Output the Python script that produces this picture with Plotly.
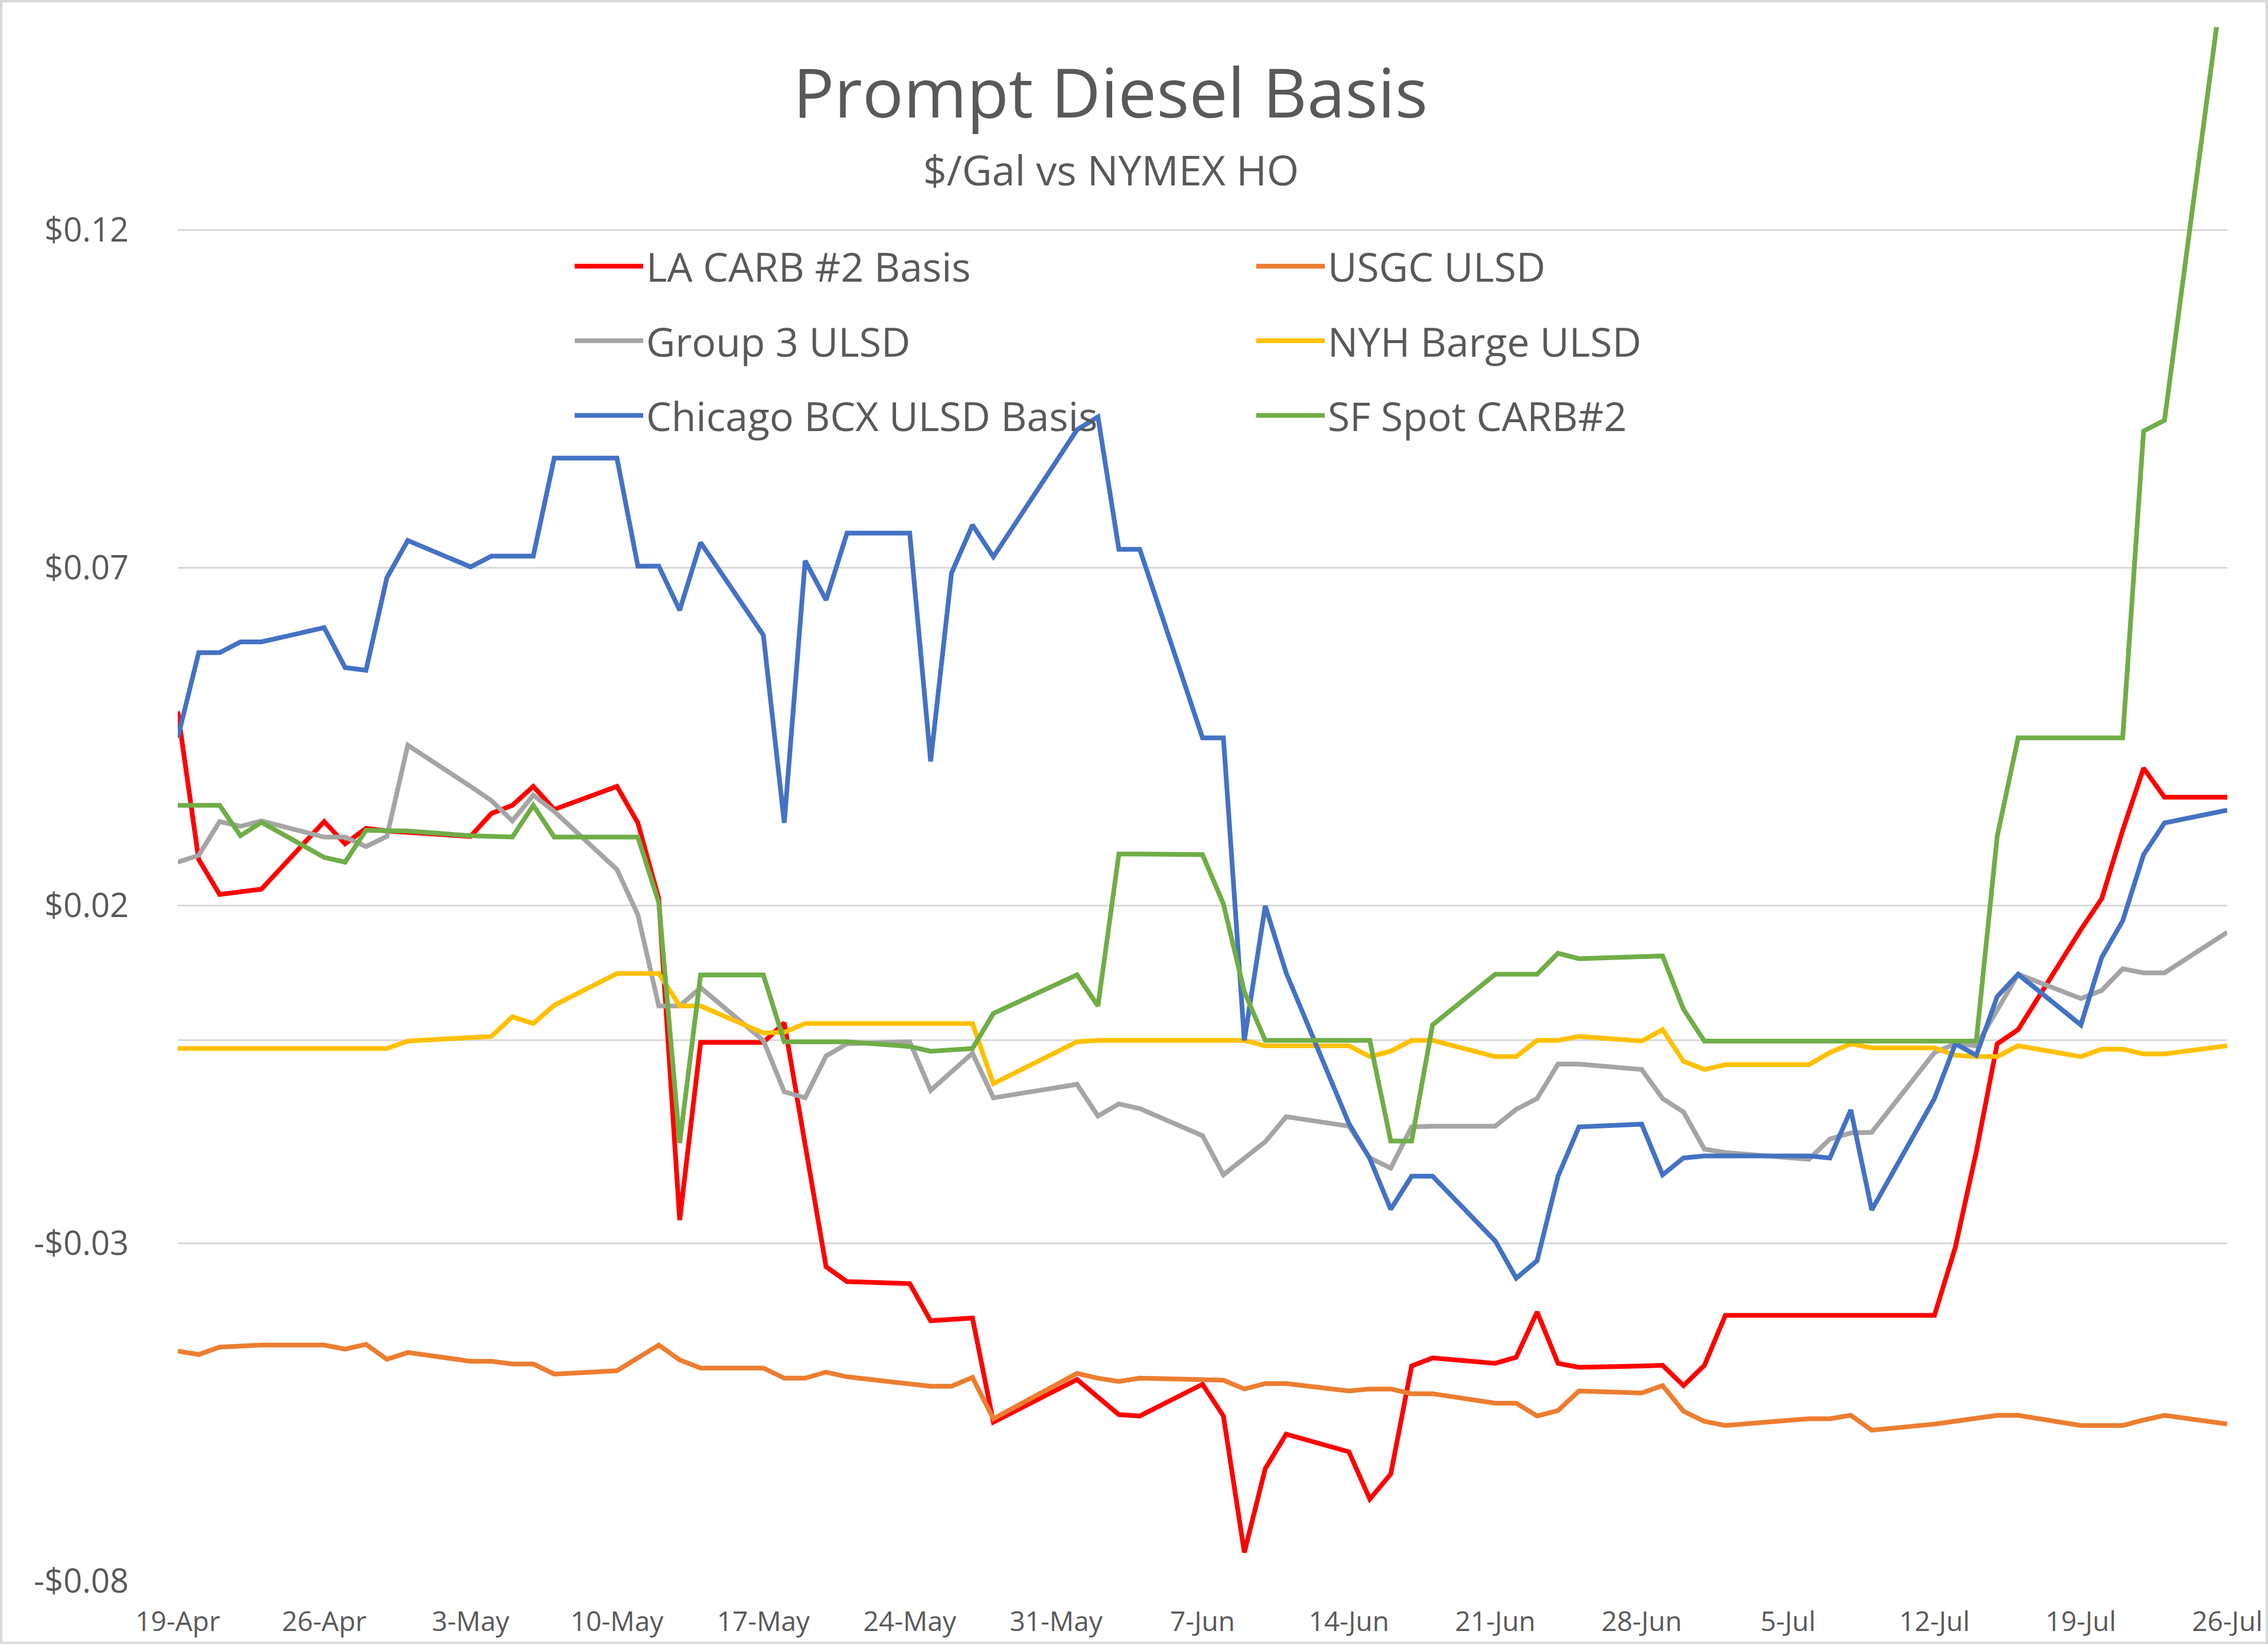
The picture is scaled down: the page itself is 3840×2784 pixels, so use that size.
import plotly.graph_objects as go

dates = [
    "2021-04-19", "2021-04-20", "2021-04-21", "2021-04-22", "2021-04-23",
    "2021-04-26", "2021-04-27", "2021-04-28", "2021-04-29", "2021-04-30",
    "2021-05-03", "2021-05-04", "2021-05-05", "2021-05-06", "2021-05-07",
    "2021-05-10", "2021-05-11", "2021-05-12", "2021-05-13", "2021-05-14",
    "2021-05-17", "2021-05-18", "2021-05-19", "2021-05-20", "2021-05-21",
    "2021-05-24", "2021-05-25", "2021-05-26", "2021-05-27", "2021-05-28",
    "2021-06-01", "2021-06-02", "2021-06-03", "2021-06-04",
    "2021-06-07", "2021-06-08", "2021-06-09", "2021-06-10", "2021-06-11",
    "2021-06-14", "2021-06-15", "2021-06-16", "2021-06-17", "2021-06-18",
    "2021-06-21", "2021-06-22", "2021-06-23", "2021-06-24", "2021-06-25",
    "2021-06-28", "2021-06-29", "2021-06-30", "2021-07-01", "2021-07-02",
    "2021-07-06", "2021-07-07", "2021-07-08", "2021-07-09",
    "2021-07-12", "2021-07-13", "2021-07-14", "2021-07-15", "2021-07-16",
    "2021-07-19", "2021-07-20", "2021-07-21", "2021-07-22", "2021-07-23",
    "2021-07-26",
]

la_carb = [
    0.0487, 0.0268, 0.0216, 0.0220, 0.0224,
    0.0324, 0.0291, 0.0314, 0.0310, 0.0308,
    0.0302, 0.0336, 0.0348, 0.0376, 0.0342,
    0.0376, 0.0322, 0.0210, -0.0266, -0.0003,
    -0.0003, 0.0026, -0.0159, -0.0335, -0.0357,
    -0.0360, -0.0415, -0.0413, -0.0411, -0.0565,
    -0.0502, -0.0528, -0.0554, -0.0556,
    -0.0509, -0.0556, -0.0758, -0.0634, -0.0583,
    -0.0609, -0.0679, -0.0642, -0.0482, -0.0470,
    -0.0478, -0.0469, -0.0402, -0.0478, -0.0484,
    -0.0482, -0.0481, -0.0511, -0.0481, -0.0407,
    -0.0407, -0.0407, -0.0407, -0.0407,
    -0.0407, -0.0306, -0.0165, -0.0005, 0.0016,
    0.0164, 0.0210, 0.0311, 0.0403, 0.0360,
    0.0360,
]

usgc_ulsd = [
    -0.0460, -0.0465, -0.0454, -0.0452, -0.0451,
    -0.0451, -0.0457, -0.0450, -0.0472, -0.0462,
    -0.0475, -0.0475, -0.0479, -0.0479, -0.0494,
    -0.0489, -0.0470, -0.0451, -0.0473, -0.0485,
    -0.0485, -0.0500, -0.0500, -0.0491, -0.0498,
    -0.0508, -0.0512, -0.0512, -0.0499, -0.0560,
    -0.0493, -0.0500, -0.0505, -0.0500,
    -0.0503, -0.0503, -0.0516, -0.0508, -0.0508,
    -0.0519, -0.0516, -0.0516, -0.0523, -0.0523,
    -0.0537, -0.0537, -0.0556, -0.0548, -0.0519,
    -0.0522, -0.0511, -0.0549, -0.0564, -0.0570,
    -0.0560, -0.0560, -0.0555, -0.0577,
    -0.0568, -0.0564, -0.0560, -0.0555, -0.0555,
    -0.0570, -0.0570, -0.0570, -0.0562, -0.0555,
    -0.0568,
]

group3_ulsd = [
    0.0264, 0.0274, 0.0324, 0.0317, 0.0325,
    0.0301, 0.0301, 0.0287, 0.0302, 0.0437,
    0.0376, 0.0355, 0.0325, 0.0363, 0.0339,
    0.0253, 0.0186, 0.0051, 0.0051, 0.0078,
    0.0000, -0.0076, -0.0085, -0.0023, -0.0005,
    -0.0002, -0.0074, -0.0047, -0.0019, -0.0085,
    -0.0065, -0.0112, -0.0094, -0.0101,
    -0.0141, -0.0199, -0.0174, -0.0150, -0.0113,
    -0.0127, -0.0174, -0.0189, -0.0128, -0.0127,
    -0.0127, -0.0102, -0.0086, -0.0035, -0.0035,
    -0.0043, -0.0086, -0.0106, -0.0161, -0.0166,
    -0.0176, -0.0146, -0.0137, -0.0136,
    -0.0018, -0.0005, -0.0008, 0.0045, 0.0098,
    0.0062, 0.0074, 0.0106, 0.0100, 0.0100,
    0.0160,
]

nyh_barge_ulsd = [
    -0.0012, -0.0012, -0.0012, -0.0012, -0.0012,
    -0.0012, -0.0012, -0.0012, -0.0012, -0.0001,
    0.0005, 0.0006, 0.0035, 0.0025, 0.0052,
    0.0099, 0.0099, 0.0099, 0.0051, 0.0051,
    0.0011, 0.0012, 0.0025, 0.0025, 0.0025,
    0.0025, 0.0025, 0.0025, 0.0025, -0.0064,
    -0.0002, 0.0000, 0.0000, 0.0000,
    0.0000, 0.0000, 0.0000, -0.0008, -0.0008,
    -0.0008, -0.0024, -0.0016, 0.0000, 0.0000,
    -0.0024, -0.0024, 0.0000, 0.0000, 0.0006,
    -0.0001, 0.0016, -0.0031, -0.0043, -0.0036,
    -0.0036, -0.0018, -0.0005, -0.0011,
    -0.0011, -0.0022, -0.0024, -0.0024, -0.0008,
    -0.0024, -0.0013, -0.0013, -0.0020, -0.0020,
    -0.0008,
]

chicago_bcx = [
    0.0448, 0.0574, 0.0574, 0.0590, 0.0590,
    0.0611, 0.0552, 0.0548, 0.0685, 0.0740,
    0.0701, 0.0717, 0.0717, 0.0717, 0.0862,
    0.0862, 0.0702, 0.0702, 0.0637, 0.0737,
    0.0600, 0.0322, 0.0710, 0.0652, 0.0751,
    0.0751, 0.0413, 0.0692, 0.0763, 0.0716,
    0.0904, 0.0923, 0.0727, 0.0727,
    0.0448, 0.0448, 0.0000, 0.0199, 0.0100,
    -0.0123, -0.0175, -0.0250, -0.0201, -0.0201,
    -0.0297, -0.0352, -0.0326, -0.0201, -0.0128,
    -0.0124, -0.0199, -0.0174, -0.0171, -0.0171,
    -0.0171, -0.0174, -0.0103, -0.0251,
    -0.0086, -0.0005, -0.0022, 0.0065, 0.0098,
    0.0023, 0.0123, 0.0177, 0.0275, 0.0322,
    0.0341,
]

sf_spot_carb2 = [
    0.0348, 0.0348, 0.0348, 0.0303, 0.0323,
    0.0271, 0.0264, 0.0311, 0.0311, 0.0310,
    0.0303, 0.0302, 0.0301, 0.0348, 0.0301,
    0.0301, 0.0301, 0.0204, -0.0152, 0.0097,
    0.0097, -0.0002, -0.0002, -0.0002, -0.0002,
    -0.0009, -0.0016, -0.0014, -0.0012, 0.0040,
    0.0097, 0.0051, 0.0276, 0.0276,
    0.0275, 0.0202, 0.0072, 0.0000, 0.0000,
    0.0000, 0.0000, -0.0149, -0.0149, 0.0023,
    0.0098, 0.0098, 0.0098, 0.0129, 0.0121,
    0.0124, 0.0125, 0.0046, -0.0001, -0.0001,
    -0.0001, -0.0001, -0.0001, -0.0001,
    -0.0001, -0.0001, -0.0001, 0.0302, 0.0448,
    0.0448, 0.0448, 0.0448, 0.0902, 0.0918,
    0.1620,
]

x_tick_dates = [
    "2021-04-19", "2021-04-26", "2021-05-03", "2021-05-10", "2021-05-17",
    "2021-05-24", "2021-05-31", "2021-06-07", "2021-06-14", "2021-06-21",
    "2021-06-28", "2021-07-05", "2021-07-12", "2021-07-19", "2021-07-26",
]
x_tick_labels = [
    "19-Apr", "26-Apr", "3-May", "10-May", "17-May", "24-May", "31-May",
    "7-Jun", "14-Jun", "21-Jun", "28-Jun", "5-Jul", "12-Jul", "19-Jul", "26-Jul",
]
y_tick_values = [-0.08, -0.03, 0.02, 0.07, 0.12]
y_tick_labels = ["-$0.08", "-$0.03", "$0.02", "$0.07", "$0.12"]

series_names = ["LA CARB #2 Basis", "USGC ULSD", "Group 3 ULSD",
                "NYH Barge ULSD", "Chicago BCX ULSD Basis", "SF Spot CARB#2"]
series_values = [la_carb, usgc_ulsd, group3_ulsd, nyh_barge_ulsd, chicago_bcx, sf_spot_carb2]
series_colors = ["#FF0000", "#ED7D31", "#A5A5A5", "#FFC000", "#4472C4", "#70AD47"]
series_legends = ["legend", "legend2", "legend", "legend2", "legend", "legend2"]

W, H = 3840, 2784
ML, MR, MT, MB = 301, 69, 46, 107
PW, PH = W - ML - MR, H - MT - MB

TEXT = "#595959"
FONT = "Open Sans"

fig = go.Figure()
for name, vals, col, lg in zip(series_names, series_values, series_colors, series_legends):
    fig.add_trace(go.Scatter(
        x=dates, y=vals, name=name, mode="lines",
        line=dict(color=col, width=8),
        legend=lg, legendgroup=name,
    ))

def px_x(px):
    return (px - ML) / PW

def px_y(py):
    return (H - MB - py) / PH

legend_common = dict(
    orientation="v",
    xanchor="left", yanchor="top",
    font=dict(family=FONT, size=68, color=TEXT),
    bgcolor="rgba(0,0,0,0)",
    itemwidth=116,
    tracegroupgap=35,
    traceorder="grouped",
)

fig.update_layout(
    width=W, height=H,
    margin=dict(l=ML, r=MR, t=MT, b=MB, autoexpand=False),
    paper_bgcolor="white", plot_bgcolor="white",
    font=dict(family=FONT, color=TEXT),
    title=dict(
        text="Prompt Diesel Basis",
        font=dict(family=FONT, size=116, color=TEXT),
        xref="container", yref="container",
        x=1880 / W, y=1 - 158 / H, xanchor="center", yanchor="middle",
    ),
    annotations=[dict(
        text="$/Gal vs NYMEX HO", showarrow=False,
        xref="paper", yref="paper",
        x=px_x(1881), y=px_y(287), xanchor="center", yanchor="middle",
        font=dict(family=FONT, size=70, color=TEXT),
    )],
    legend=dict(x=px_x(968), y=px_y(400), **legend_common),
    legend2=dict(x=px_x(2122), y=px_y(400), **legend_common),
    xaxis=dict(
        type="date",
        range=["2021-04-19", "2021-07-26"],
        tickvals=x_tick_dates, ticktext=x_tick_labels,
        showgrid=False, showline=False, zeroline=False,
        ticks="", ticklabelstandoff=38,
        tickfont=dict(family=FONT, size=46, color=TEXT),
    ),
    yaxis=dict(
        range=[-0.08, 0.15],
        tickvals=y_tick_values, ticktext=y_tick_labels,
        showgrid=True, gridcolor="#D9D9D9", gridwidth=3,
        zeroline=True, zerolinecolor="#D9D9D9", zerolinewidth=3,
        showline=False, ticks="", ticklabelstandoff=82,
        tickfont=dict(family=FONT, size=56, color=TEXT),
    ),
    shapes=[dict(
        type="rect", xref="paper", yref="paper",
        x0=px_x(2), x1=px_x(W - 2), y0=px_y(H - 2), y1=px_y(2),
        line=dict(color="#D9D9D9", width=4), fillcolor="rgba(0,0,0,0)",
        layer="above",
    )],
)

fig.write_html("out.html")
